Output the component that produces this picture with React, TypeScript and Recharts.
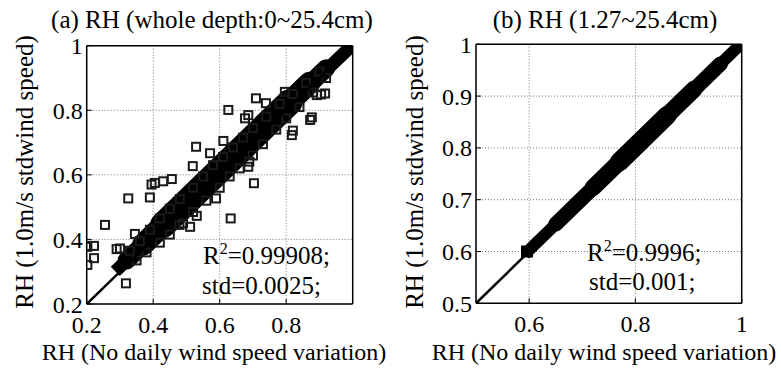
import { ScatterChart, Scatter, XAxis, YAxis, CartesianGrid } from 'recharts';

const FONT = "'Liberation Serif', 'Times New Roman', serif";

// panel (a): whole depth
const xTicksA = [0.2, 0.4, 0.6, 0.8];
const yTicksA = [0.2, 0.4, 0.6, 0.8, 1];
const diagA = [{ x: 0.2, y: 0.2 }, { x: 1, y: 1 }];
// dense cloud, drawn as a thick band (overlapping widths)
const bandA1 = [{ x: 0.3, y: 0.315 }, { x: 0.993, y: 0.996 }];
const bandA2 = [{ x: 0.32, y: 0.335 }, { x: 0.92, y: 0.93 }];
const bandA3 = [{ x: 0.37, y: 0.385 }, { x: 0.87, y: 0.885 }];
const bandA4 = [{ x: 0.43, y: 0.445 }, { x: 0.81, y: 0.825 }];
const outX = [0.202, 0.222, 0.202, 0.222, 0.198, 0.255, 0.325, 0.39, 0.395, 0.405, 0.43, 0.456, 0.519, 0.529, 0.611, 0.571, 0.626, 0.686, 0.676, 0.709, 0.739, 0.796, 0.892, 0.917, 0.905, 0.872, 0.877, 0.82, 0.817, 0.703, 0.633, 0.589, 0.511, 0.531, 0.479, 0.345, 0.3, 0.29, 0.318, 0.689, 0.686];
const outY = [0.377, 0.38, 0.321, 0.342, 0.38, 0.445, 0.527, 0.53, 0.57, 0.575, 0.58, 0.587, 0.627, 0.687, 0.705, 0.667, 0.801, 0.785, 0.775, 0.837, 0.822, 0.857, 0.847, 0.852, 0.849, 0.77, 0.778, 0.737, 0.723, 0.574, 0.465, 0.527, 0.439, 0.473, 0.445, 0.417, 0.372, 0.37, 0.264, 0.641, 0.625];
const edgeX = [0.33, 0.36, 0.39, 0.42, 0.45, 0.48, 0.52, 0.55, 0.58, 0.61, 0.64, 0.67, 0.7, 0.74, 0.78, 0.82, 0.86, 0.9, 0.35, 0.38, 0.42, 0.45, 0.49, 0.52, 0.56, 0.6, 0.63, 0.66, 0.7, 0.73, 0.77, 0.8, 0.84, 0.88, 0.92];
const edgeY = [0.365, 0.395, 0.43, 0.465, 0.495, 0.525, 0.56, 0.595, 0.63, 0.655, 0.685, 0.715, 0.745, 0.78, 0.82, 0.85, 0.885, 0.92, 0.335, 0.36, 0.39, 0.415, 0.45, 0.485, 0.52, 0.56, 0.595, 0.62, 0.66, 0.695, 0.74, 0.775, 0.81, 0.855, 0.9];

// panel (b): 1.27~25.4cm
const xTicksB = [0.6, 0.8, 1];
const yTicksB = [0.5, 0.6, 0.7, 0.8, 0.9, 1];
const diagB = [{ x: 0.5, y: 0.5 }, { x: 1, y: 1 }];
const bandB1 = [{ x: 0.6, y: 0.603 }, { x: 0.993, y: 0.995 }];
const bandB2 = [{ x: 0.65, y: 0.653 }, { x: 0.96, y: 0.962 }];
const bandB3 = [{ x: 0.72, y: 0.723 }, { x: 0.91, y: 0.913 }];
const bandB4 = [{ x: 0.77, y: 0.773 }, { x: 0.86, y: 0.863 }];
const endsB = [{ x: 0.596, y: 0.6 }, { x: 0.995, y: 0.998 }];

const outliersA = outX.map((x, i) => ({ x, y: outY[i] }));
const edgesA = edgeX.map((x, i) => ({ x, y: edgeY[i] }));

const HollowSquare = (props: any) => {
  const { cx, cy } = props;
  if (cx == null || cy == null) return null;
  return <rect x={cx - 4} y={cy - 4} width={8} height={8} fill="none" stroke="#1a1a1a" strokeWidth={2} />;
};

const SolidSquare = (props: any) => {
  const { cx, cy } = props;
  if (cx == null || cy == null) return null;
  return <rect x={cx - 6} y={cy - 6} width={12} height={12} fill="#000" />;
};

const Nothing = () => null;

const tickStyle = { fontSize: 24, fill: '#000', fontFamily: FONT };
const frame = { stroke: '#000', strokeWidth: 1.5 };

function Panel({ w, margin, xDomain, yDomain, xTicks, yTicks, children }: any) {
  return (
    <ScatterChart width={w} height={369} margin={margin}>
      <CartesianGrid stroke="#777" strokeDasharray="1 2" strokeWidth={1} />
      <XAxis
        type="number" dataKey="x" domain={xDomain} ticks={xTicks} height={30}
        allowDataOverflow axisLine={frame}
        tickLine={{ stroke: '#000' }} tickSize={-5} tickMargin={17} tick={tickStyle}
      />
      <YAxis
        type="number" dataKey="y" domain={yDomain} ticks={yTicks} width={40}
        allowDataOverflow axisLine={frame}
        tickLine={{ stroke: '#000' }} tickSize={-5} tickMargin={9} tick={tickStyle}
      />
      <XAxis
        xAxisId="top" orientation="top" type="number" domain={xDomain} ticks={xTicks} height={1}
        axisLine={frame} tickLine={{ stroke: '#000' }} tickSize={-5} tick={false}
      />
      <YAxis
        yAxisId="right" orientation="right" type="number" domain={yDomain} ticks={yTicks} width={1}
        axisLine={frame} tickLine={{ stroke: '#000' }} tickSize={-5} tick={false}
      />
      {children}
    </ScatterChart>
  );
}

const bandLine = (wd: number, cap: 'round' | 'square' = 'round') => ({ stroke: '#000', strokeWidth: wd, strokeLinecap: cap });

export default function App() {
  return (
    <div style={{ position: 'absolute', left: 0, top: 0, width: 781, height: 369, background: '#fff', fontFamily: FONT }}>
      <div style={{ position: 'absolute', left: 0, top: 0 }}>
        <Panel
          w={390}
          margin={{ top: 44.7, right: 36.3, bottom: 35, left: 46.7 }}
          xDomain={[0.2, 1]} yDomain={[0.2, 1]} xTicks={xTicksA} yTicks={yTicksA}
        >
          <Scatter data={bandA1} line={bandLine(13, 'square')} shape={Nothing} isAnimationActive={false} />
          <Scatter data={bandA2} line={bandLine(18)} shape={Nothing} isAnimationActive={false} />
          <Scatter data={bandA3} line={bandLine(22)} shape={Nothing} isAnimationActive={false} />
          <Scatter data={bandA4} line={bandLine(26)} shape={Nothing} isAnimationActive={false} />
          <Scatter data={edgesA} shape={HollowSquare} isAnimationActive={false} />
          <Scatter data={outliersA} shape={HollowSquare} isAnimationActive={false} />
          <Scatter data={diagA} line={{ stroke: '#000', strokeWidth: 2.5 }} shape={Nothing} isAnimationActive={false} />
        </Panel>
      </div>
      <div style={{ position: 'absolute', left: 390, top: 0 }}>
        <Panel
          w={391}
          margin={{ top: 43.3, right: 38.3, bottom: 35.7, left: 46 }}
          xDomain={[0.5, 1]} yDomain={[0.5, 1]} xTicks={xTicksB} yTicks={yTicksB}
        >
          <Scatter data={bandB1} line={bandLine(12, 'square')} shape={Nothing} isAnimationActive={false} />
          <Scatter data={bandB2} line={bandLine(15)} shape={Nothing} isAnimationActive={false} />
          <Scatter data={bandB3} line={bandLine(17)} shape={Nothing} isAnimationActive={false} />
          <Scatter data={bandB4} line={bandLine(19)} shape={Nothing} isAnimationActive={false} />
          <Scatter data={endsB} shape={SolidSquare} isAnimationActive={false} />
          <Scatter data={diagB} line={{ stroke: '#000', strokeWidth: 2.5 }} shape={Nothing} isAnimationActive={false} />
        </Panel>
      </div>
      <svg width={781} height={369} style={{ position: 'absolute', left: 0, top: 0, pointerEvents: 'none' }} fontFamily={FONT} fill="#000">
        <text x={212} y={28} fontSize={25} textAnchor="middle">(a) RH (whole depth:0~25.4cm)</text>
        <text x={605} y={28} fontSize={25} textAnchor="middle">(b) RH (1.27~25.4cm)</text>
        <text x={214} y={360} fontSize={24} textAnchor="middle">RH (No daily wind speed variation)</text>
        <text x={604} y={360} fontSize={24} textAnchor="middle">RH (No daily wind speed variation)</text>
        <text x={24} y={172} fontSize={25} textAnchor="middle" dominantBaseline="central" transform="rotate(-90 24 172)">RH (1.0m/s stdwind speed)</text>
        <text x={414} y={172} fontSize={25} textAnchor="middle" dominantBaseline="central" transform="rotate(-90 414 172)">RH (1.0m/s stdwind speed)</text>
        <text x={203} y={264} fontSize={25}>R<tspan dy={-10} fontSize={16}>2</tspan><tspan dy={10}>=0.99908;</tspan></text>
        <text x={202} y={294} fontSize={25}>std=0.0025;</text>
        <text x={587} y={261} fontSize={25}>R<tspan dy={-10} fontSize={16}>2</tspan><tspan dy={10}>=0.9996;</tspan></text>
        <text x={589} y={290} fontSize={25}>std=0.001;</text>
      </svg>
    </div>
  );
}
